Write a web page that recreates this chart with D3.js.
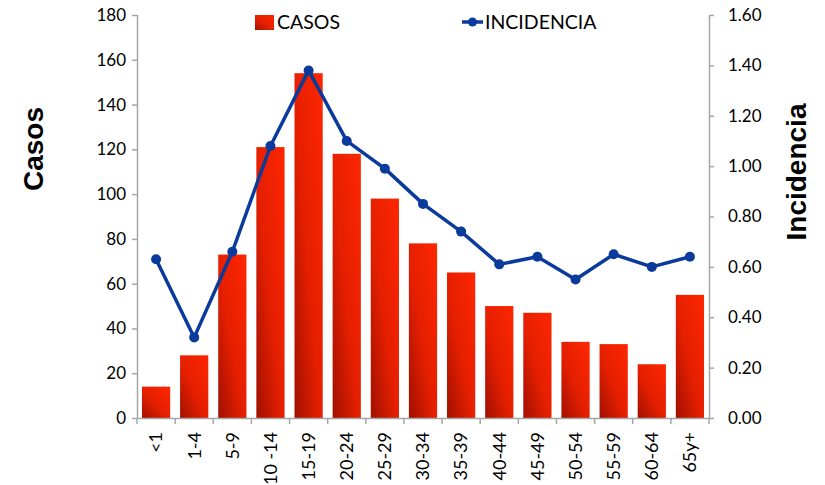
<!DOCTYPE html>
<html>
<head>
<meta charset="utf-8">
<script src="https://cdn.jsdelivr.net/npm/d3@7"></script>
<style>
  body { margin: 0; background: #fff; }
  text { font-family: Lato, "Open Sans", sans-serif; fill: #000; }
</style>
</head>
<body>
<div id="chart"></div>
<script>
// age groups and values
var groups = ['<1', '1-4', '5-9', '10 -14', '15-19', '20-24', '25-29', '30-34',
  '35-39', '40-44', '45-49', '50-54', '55-59', '60-64', '65y+'];
var casos = [14, 28, 73, 121, 154, 118, 98, 78, 65, 50, 47, 34, 33, 24, 55];
var incidencia = [0.63, 0.32, 0.66, 1.08, 1.38, 1.10, 0.99, 0.85, 0.74, 0.61, 0.64, 0.55, 0.65, 0.60, 0.64];
var casosTicks = [0, 20, 40, 60, 80, 100, 120, 140, 160, 180];
var incTicks = [0, 0.2, 0.4, 0.6, 0.8, 1.0, 1.2, 1.4, 1.6];

var W = 825, H = 485;
var plotL = 137, plotR = 709, plotT = 15, plotB = 418;

var svg = d3.select('#chart').append('svg')
  .attr('width', W)
  .attr('height', H);

var defs = svg.append('defs');
var grad = defs.append('linearGradient')
  .attr('id', 'barGrad')
  .attr('x1', '0%').attr('y1', '100%')
  .attr('x2', '100%').attr('y2', '0%');
grad.append('stop').attr('offset', '0%').attr('stop-color', '#a01000');
grad.append('stop').attr('offset', '45%').attr('stop-color', '#e41f00');
grad.append('stop').attr('offset', '100%').attr('stop-color', '#ff2600');

var x = d3.scaleBand().domain(groups).range([plotL, plotR]).paddingInner(0.26).paddingOuter(0.13);
var xb = d3.scaleBand().domain(groups).range([plotL, plotR]);
var y = d3.scaleLinear().domain([0, 180]).range([plotB, plotT]);
var y2 = d3.scaleLinear().domain([0, 1.6]).range([plotB, plotT]);

// bars
svg.append('g').selectAll('rect')
  .data(casos)
  .enter().append('rect')
  .attr('x', function (d, i) { return x(groups[i]); })
  .attr('y', function (d) { return y(d); })
  .attr('width', x.bandwidth())
  .attr('height', function (d) { return plotB - y(d); })
  .style('fill', 'url(#barGrad)');

// axes
var axisColor = '#a6a6a6';
var gl = svg.append('g')
  .attr('transform', 'translate(' + plotL + ',0)')
  .call(d3.axisLeft(y).tickValues(casosTicks).tickSize(5).tickPadding(6));
var gr = svg.append('g')
  .attr('transform', 'translate(' + plotR + ',0)')
  .call(d3.axisRight(y2).tickValues(incTicks).tickSize(5).tickPadding(14)
    .tickFormat(d3.format('.2f')));
var gb = svg.append('g')
  .attr('transform', 'translate(0,' + plotB + ')')
  .call(d3.axisBottom(xb).tickSize(0).tickPadding(0));

[gl, gr].forEach(function (g) {
  g.select('.domain').attr('stroke', axisColor).attr('stroke-width', 1.5);
  g.selectAll('.tick line').attr('stroke', axisColor).attr('stroke-width', 1.5);
  g.selectAll('.tick text').style('font-size', '17px').attr('fill', '#000');
});
gl.select('.domain').attr('d', 'M0.5,' + plotT + 'V' + plotB);
gr.select('.domain').attr('d', 'M0.5,' + plotT + 'V' + plotB);

gb.select('.domain').attr('stroke', axisColor).attr('stroke-width', 1.5)
  .attr('d', 'M' + plotL + ',0.5H' + plotR);
gb.selectAll('.tick text')
  .style('font-size', '18px')
  .attr('text-anchor', 'end')
  .attr('transform', 'rotate(-90)')
  .attr('x', -14)
  .attr('y', 0)
  .attr('dy', '0.35em');

// x tick marks at band edges
svg.append('g').selectAll('line')
  .data(groups.concat(['end']))
  .enter().append('line')
  .attr('x1', function (d, i) { return i < groups.length ? xb(d) : plotR; })
  .attr('x2', function (d, i) { return i < groups.length ? xb(d) : plotR; })
  .attr('y1', plotB)
  .attr('y2', plotB + 6)
  .attr('stroke', axisColor)
  .attr('stroke-width', 1.5);

// incidence line
var line = d3.line()
  .x(function (d, i) { return xb(groups[i]) + xb.bandwidth() / 2; })
  .y(function (d) { return y2(d); });

svg.append('path')
  .datum(incidencia)
  .attr('d', line)
  .attr('fill', 'none')
  .attr('stroke', '#0a3a9c')
  .attr('stroke-width', 3.5)
  .attr('stroke-linejoin', 'round');

svg.append('g').selectAll('circle')
  .data(incidencia)
  .enter().append('circle')
  .attr('cx', function (d, i) { return xb(groups[i]) + xb.bandwidth() / 2; })
  .attr('cy', function (d) { return y2(d); })
  .attr('r', 5)
  .attr('fill', '#0a3a9c');

// axis titles
svg.append('text')
  .attr('transform', 'translate(43,149) rotate(-90)')
  .attr('text-anchor', 'middle')
  .style('font-family', 'Liberation Sans, Arial, sans-serif')
  .style('font-weight', 'bold')
  .style('font-size', '28px')
  .text('Casos');

svg.append('text')
  .attr('transform', 'translate(806,172) rotate(-90)')
  .attr('text-anchor', 'middle')
  .style('font-family', 'Liberation Sans, Arial, sans-serif')
  .style('font-weight', 'bold')
  .style('font-size', '28px')
  .text('Incidencia');

// legend
var lg = svg.append('g');
lg.append('rect')
  .attr('x', 255).attr('y', 15).attr('width', 19).attr('height', 15)
  .style('fill', 'url(#barGrad)');
lg.append('text')
  .attr('x', 277).attr('y', 29)
  .style('font-size', '19.5px')
  .text('CASOS');
lg.append('line')
  .attr('x1', 462).attr('x2', 483).attr('y1', 22).attr('y2', 22)
  .attr('stroke', '#0a3a9c').attr('stroke-width', 3.5);
lg.append('circle')
  .attr('cx', 472.5).attr('cy', 22).attr('r', 4.5)
  .attr('fill', '#0a3a9c');
lg.append('text')
  .attr('x', 485).attr('y', 29)
  .style('font-size', '19.5px')
  .text('INCIDENCIA');
</script>
</body>
</html>
